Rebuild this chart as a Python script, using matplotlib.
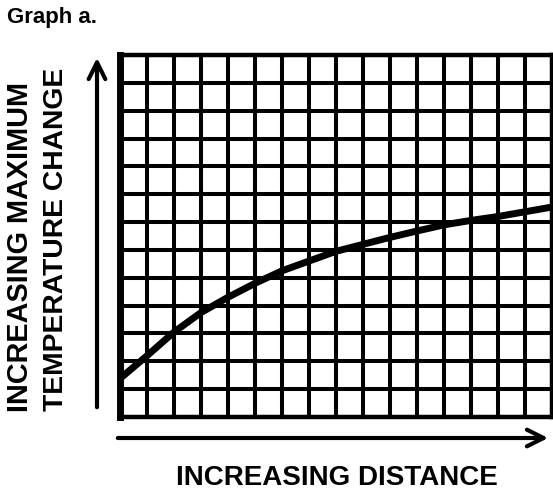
import matplotlib
matplotlib.use("Agg")
import matplotlib.pyplot as plt

# Data (grid units)
distance = [0, 1, 2, 3, 4, 5, 6, 7, 8, 9, 10, 11, 12, 13, 14, 15, 16]
temp_change = [1.38, 2.2, 3.05, 3.75, 4.3, 4.8, 5.25, 5.6, 5.95, 6.2, 6.45, 6.68, 6.9, 7.06, 7.2, 7.37, 7.54]
n_cols = 16
n_rows = 13

title = "Graph a."
ylabel1 = "INCREASING MAXIMUM"
ylabel2 = "TEMPERATURE CHANGE"
xlabel = "INCREASING DISTANCE"

W, H = 553, 499
fig = plt.figure(figsize=(W / 100, H / 100), dpi=100)
fig.patch.set_facecolor("white")

left, right, top, bottom = 120, 552, 55, 417
ax = fig.add_axes([left / W, 1 - bottom / H, (right - left) / W, (bottom - top) / H])
ax.set_xlim(0, n_cols)
ax.set_ylim(0, n_rows)
ax.set_xticks(range(n_cols + 1))
ax.set_yticks(range(n_rows + 1))
ax.tick_params(length=0, labelbottom=False, labelleft=False)
ax.grid(True, color="black", linewidth=2.9)
ax.set_axisbelow(True)
for name, sp in ax.spines.items():
    sp.set_color("black")
    sp.set_linewidth(3.2)
ax.spines["left"].set_linewidth(5)

ax.plot(distance, temp_change, color="black", linewidth=5, solid_capstyle="butt",
        zorder=5, clip_on=False)

font = "Liberation Sans"
fig.text(7 / W, 1 - 18 / H, title, fontsize=16, fontweight="bold", family=font,
         ha="left", va="center")
fig.text(20 / W, 1 - 247 / H, ylabel1, fontsize=20.8, fontweight="bold", family=font,
         rotation=90, ha="center", va="center")
fig.text(56 / W, 1 - 239 / H, ylabel2, fontsize=20.3, fontweight="bold", family=font,
         rotation=90, ha="center", va="center")
fig.text(337 / W, 1 - 478 / H, xlabel, fontsize=20, fontweight="bold", family=font,
         ha="center", va="center")

# Arrows
fig.add_artist(matplotlib.patches.FancyArrowPatch(
    (97 / W, 1 - 410 / H), (97 / W, 1 - 55 / H), transform=fig.transFigure,
    arrowstyle="->,head_length=6,head_width=3", linewidth=3, color="black",
    mutation_scale=2))
fig.add_artist(matplotlib.patches.FancyArrowPatch(
    (115 / W, 1 - 438 / H), (551 / W, 1 - 438 / H), transform=fig.transFigure,
    arrowstyle="->,head_length=6,head_width=3", linewidth=3, color="black",
    mutation_scale=2))

fig.savefig("out.png", dpi=100, facecolor="white")
